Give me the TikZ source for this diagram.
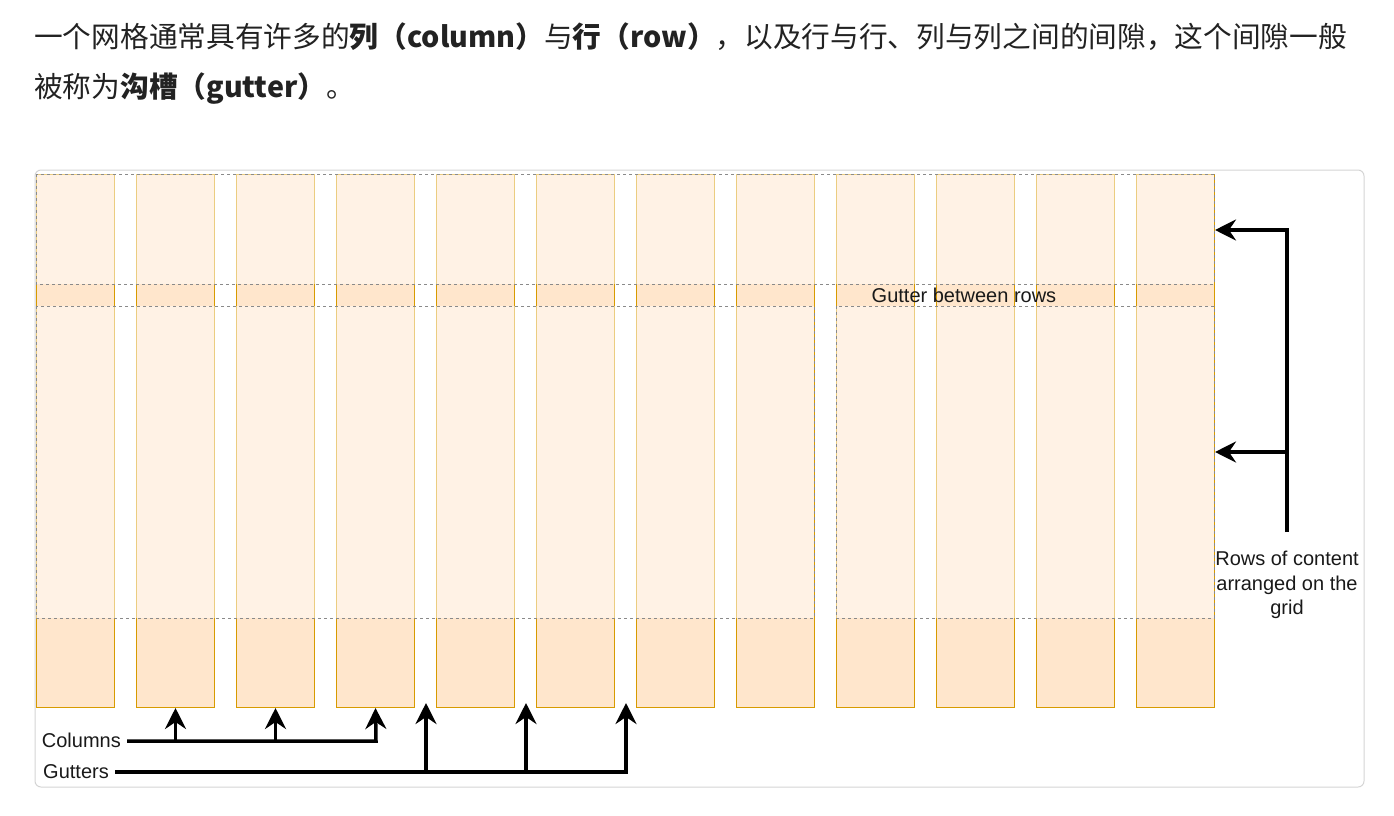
\documentclass[tikz,border=0pt]{standalone}
\usepackage{fontspec}
\setmainfont{Liberation Sans}
\newfontfamily\cjkfont{Noto Sans CJK SC}
\usepackage{tikz}
\usetikzlibrary{arrows.meta, positioning, calc}

\definecolor{colfill}{HTML}{FFE6CC}
\definecolor{colline}{HTML}{D79B00}
\definecolor{rowline}{HTML}{8A8A8A}
\definecolor{framegray}{HTML}{D4D4D4}
\definecolor{headtext}{HTML}{222222}

\begin{document}
\begin{tikzpicture}[x=1pt, y=-1pt,
    colbox/.style={draw=colline, fill=colfill, line width=1pt, minimum width=78pt,
        minimum height=533pt, inner sep=0pt, anchor=north west},
    rowbox/.style={draw=rowline, line width=0.8pt, dash pattern=on 3pt off 3pt,
        fill=white, fill opacity=0.5},
    pointer/.style={line width=3.5pt, -{Stealth[length=21pt, width=21pt, inset=7pt]}},
    txt/.style={font=\fontsize{20}{24.5}\selectfont, inner sep=0pt, text=black!90}]
    \useasboundingbox (0,0) rectangle (1394,816);

    % heading
    \node[anchor=base west, inner sep=0pt, text=headtext, font=\cjkfont\fontsize{28.7}{34}\selectfont]
        (intro1) at (34,48) {一个网格通常具有许多的\textbf{列（column）}与\textbf{行（row）}，以及行与行、列与列之间的间隙，这个间隙一般};
    \node[anchor=base west, inner sep=0pt, text=headtext, font=\cjkfont\fontsize{28.7}{34}\selectfont]
        (intro2) at (34,97) {被称为\textbf{沟槽（gutter）}。};

    \draw[framegray, line width=1pt, rounded corners=6pt] (35,170) rectangle (1364,787);

    % columns
    \foreach \i in {1,...,12}
        \node[colbox] (c\i) at ({36+100*(\i-1)},174) {};

    % rows
    \draw[rowbox] (36,174) rectangle (1214,284);
    \draw[rowbox] (36,306) rectangle (814,618);
    \draw[rowbox] (836,306) rectangle (1214,618);
    \node[txt] (gutrow) at (964,295) {Gutter between rows};

    % rows pointer
    \coordinate (rtop) at (1287,230);
    \coordinate (rmid) at (1287,452);
    \coordinate (rbot) at (1287,532);
    \draw[pointer] (rbot) -- (rtop) -- (c12.east |- rtop);
    \draw[pointer] (rmid) -- (c12.east |- rmid);
    \node[txt, align=center] (rownote) at (1287,585) {Rows of content\\arranged on the\\grid};

    % columns pointer
    \node[txt, anchor=east] (colnote) at (121,740) {Columns};
    \coordinate (cbend) at (376,741);
    \draw[pointer] ([xshift=6pt]colnote.east |- cbend) -- (cbend) -- (c4.south);
    \foreach \k in {2,3}
        \draw[pointer] (c\k.south |- cbend) -- (c\k.south);

    % gutters pointer
    \node[txt, anchor=east] (gutnote) at (109,772) {Gutters};
    \coordinate (gbend) at (626,772);
    \coordinate (g1) at (426,703);
    \coordinate (g2) at (526,703);
    \coordinate (g3) at (626,703);
    \draw[pointer] ([xshift=6pt]gutnote.east |- gbend) -- (gbend) -- (g3);
    \foreach \k in {1,2}
        \draw[pointer] (g\k |- gbend) -- (g\k);
\end{tikzpicture}
\end{document}
